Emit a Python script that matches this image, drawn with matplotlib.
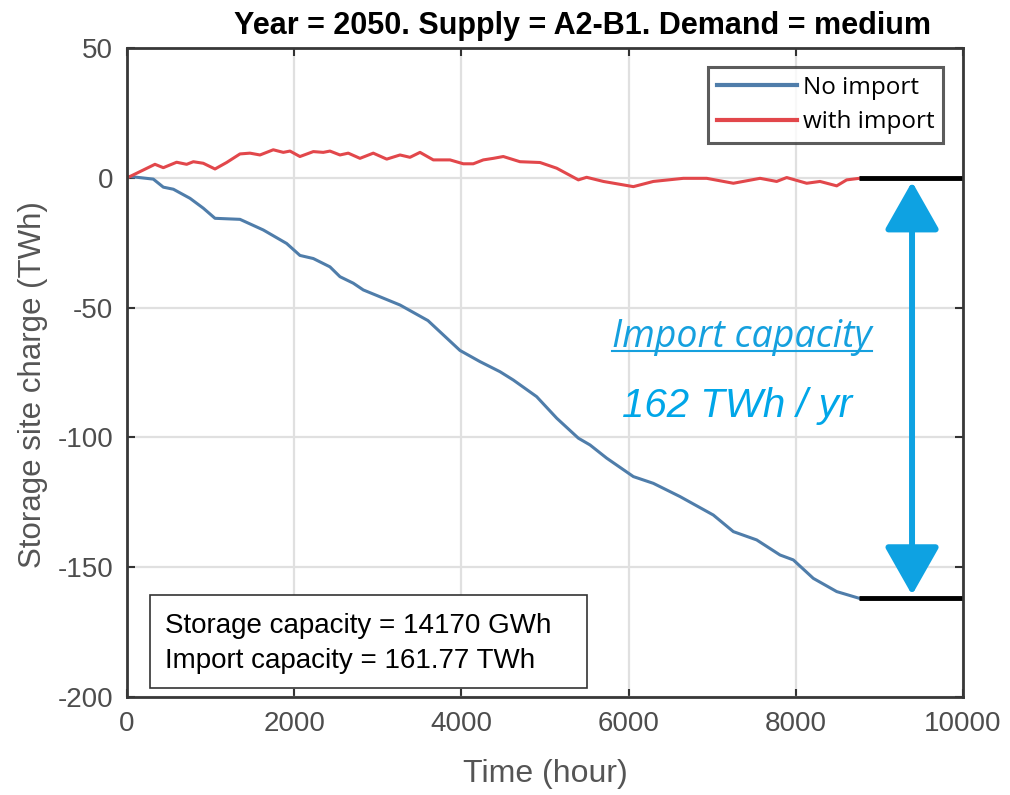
import matplotlib
matplotlib.use('Agg')
import matplotlib.pyplot as plt
from matplotlib.patches import Rectangle
import numpy as np

plt.rcParams['font.family'] = ['Liberation Sans', 'DejaVu Sans']
plt.rcParams['axes.unicode_minus'] = False

hours_no = [0, 36, 315, 435, 555, 754, 913, 1053, 1352, 1631, 1910, 2069, 2229,
            2428, 2548, 2707, 2827, 3266, 3600, 3983, 4222, 4462, 4621, 4900,
            5140, 5399, 5538, 5738, 6057, 6296, 6615, 7013, 7253, 7532, 7811,
            7970, 8209, 8489, 8760]
charge_no = [0, 0.5, -0.5, -3.6, -4.4, -7.9, -11.7, -15.6, -16.0, -20.1, -25.3,
             -29.9, -31.1, -34.3, -38.1, -40.6, -43.2, -49.0, -55.0, -66.5,
             -70.8, -74.7, -77.9, -84.3, -92.6, -100.3, -102.9, -108.0, -115.1,
             -117.7, -122.8, -129.9, -136.3, -139.5, -145.3, -147.2, -154.3,
             -159.4, -162.0]

hours_imp = [0, 36, 335, 435, 594, 714, 794, 913, 1053, 1192, 1352, 1471, 1591,
             1750, 1870, 1950, 2069, 2229, 2348, 2428, 2548, 2647, 2787, 2946,
             3107, 3266, 3385, 3505, 3664, 3864, 4023, 4142, 4262, 4382, 4501,
             4701, 4940, 5140, 5399, 5498, 5698, 6057, 6296, 6655, 6934, 7253,
             7572, 7771, 7891, 8130, 8289, 8489, 8608, 8760]
charge_imp = [0, 0.5, 5.2, 3.9, 6.0, 5.2, 6.2, 5.6, 3.4, 5.9, 9.2, 9.5, 8.8,
              10.8, 9.8, 10.3, 8.2, 10.1, 9.8, 10.3, 8.8, 9.5, 7.5, 9.5, 7.2,
              8.8, 7.9, 9.8, 6.9, 6.9, 5.4, 5.4, 6.9, 7.5, 8.2, 6.2, 5.9, 3.7,
              -0.8, 0.2, -1.4, -3.4, -1.4, -0.2, -0.2, -2.1, -0.2, -1.4, 0.1,
              -2.1, -1.4, -3.1, -0.8, -0.2]

year_end = 8760
x_max = 10000
import_capacity = -162.0
arrow_x = 9390

fig = plt.figure(figsize=(10.10, 7.95), dpi=100)
ax = fig.add_axes([0.1257, 0.1233, 0.8278, 0.8163])

ax.plot(hours_no, charge_no, color='#4f7daa', lw=2.2, label='No import')
ax.plot(hours_imp, charge_imp, color='#e2474b', lw=2.2, label='with import')

# black reference levels after the end of the year
ax.plot([year_end, x_max], [0, 0], color='black', lw=3.5, solid_capstyle='butt')
ax.plot([year_end, x_max], [import_capacity, import_capacity], color='black',
        lw=3.5, solid_capstyle='butt')

# double arrow showing the import capacity
ax.annotate('', xy=(arrow_x, import_capacity + 1.3), xytext=(arrow_x, -1.5),
            arrowprops=dict(arrowstyle='<|-|>,head_length=1.5,head_width=0.85',
                            mutation_scale=20, color='#0ea2e2', lw=4.3,
                            shrinkA=0, shrinkB=0))

t1 = fig.text(0.735, 1 - 347 / 795, 'Import capacity', ha='center', va='baseline',
              fontsize=27, style='italic', family=['Open Sans', 'DejaVu Sans'],
              color='#15a0de')
fig.text(0.7297, 1 - 417 / 795, '162 TWh / yr', ha='center', va='baseline',
         fontsize=29, style='italic', color='#00a6e8')

ax.set_xlim(0, x_max)
ax.set_ylim(-200, 50)
ax.set_xticks(np.arange(0, 10001, 2000))
ax.set_yticks(np.arange(-200, 51, 50))
ax.grid(True, color='#e0e0e0', lw=1.6)
ax.set_axisbelow(True)
ax.tick_params(direction='in', length=6, width=1.5, color='#333333',
               labelsize=20, labelcolor='#4d4d4d', top=True, right=True)
ax.tick_params(axis='x', pad=10)
ax.tick_params(axis='y', pad=10)
for s in ax.spines.values():
    s.set_color('#383838')
    s.set_linewidth(2)

ax.set_xlabel('Time (hour)', fontsize=23, color='#555555', labelpad=16)
ax.set_ylabel('Storage site charge (TWh)', fontsize=22.5, color='#555555')
ax.yaxis.set_label_coords(-0.095, 0.481)
fig.text(0.577, 1 - 34 / 795, 'Year = 2050. Supply = A2-B1. Demand = medium',
         ha='center', va='baseline', fontsize=22, fontweight='bold')

leg = ax.legend(loc='upper right', frameon=True, fancybox=False,
                prop={'family': ['Open Sans', 'DejaVu Sans'], 'size': 17.5},
                handlelength=3.3, handletextpad=0.25, borderpad=0.35,
                labelspacing=0.45, borderaxespad=0,
                bbox_to_anchor=(0.976, 0.9707))
leg.get_frame().set_edgecolor('#333333')
leg.get_frame().set_linewidth(2.2)
for h in leg.get_lines():
    h.set_linewidth(3)

# info box in the lower left
ax.add_patch(Rectangle((0.0275, 0.0139), 0.5227, 0.1431, transform=ax.transAxes,
                       fc='white', ec='#333333', lw=1.2, zorder=5))
ax.text(0.0455, 0.0986, 'Storage capacity = 14170 GWh', transform=ax.transAxes,
        fontsize=20, va='baseline', ha='left', zorder=6)
ax.text(0.0455, 0.0447, 'Import capacity = 161.77 TWh', transform=ax.transAxes,
        fontsize=20, va='baseline', ha='left', zorder=6)

# underline for the "Import capacity" label
fig.canvas.draw()
bb = t1.get_window_extent().transformed(fig.transFigure.inverted())
uy = 1 - 351 / 795
fig.add_artist(plt.Line2D([bb.x0, bb.x1], [uy, uy], transform=fig.transFigure,
                          color='#15a0de', lw=1.5))

fig.savefig('out.png', dpi=100)
